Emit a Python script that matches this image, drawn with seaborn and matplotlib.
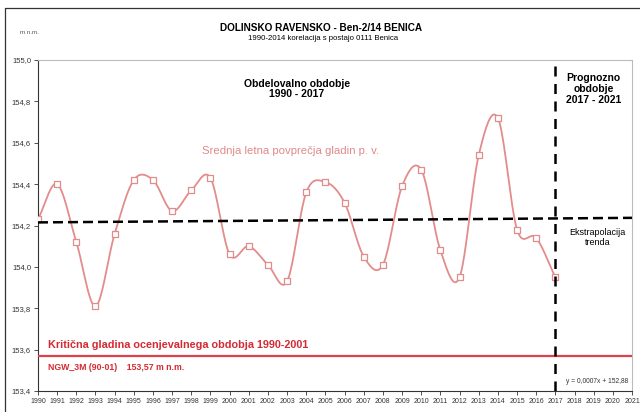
import numpy as np
import pandas as pd
import matplotlib
matplotlib.use("Agg")
import matplotlib.pyplot as plt
import seaborn as sns

years = list(range(1990, 2018))
levels = [154.23, 154.40, 154.12, 153.81, 154.16, 154.42, 154.42, 154.27, 154.37, 154.43,
          154.06, 154.10, 154.01, 153.93, 154.36, 154.41, 154.31, 154.05, 154.01, 154.39,
          154.47, 154.08, 153.95, 154.54, 154.72, 154.18, 154.14, 153.95]
trend_years = [1990, 2021]
trend_vals = [154.215, 154.237]
critical_level = 153.57
yticks = [153.4, 153.6, 153.8, 154.0, 154.2, 154.4, 154.6, 154.8, 155.0]
xticks = list(range(1990, 2022))

sns.set_theme(style="white")
plt.rcParams['font.family'] = ['Liberation Sans', 'DejaVu Sans']
plt.rcParams['text.color'] = 'black'

df = pd.DataFrame({"year": years, "level": levels})

fig = plt.figure(figsize=(6.4, 4.12), dpi=100)
ax = fig.add_axes([38/640, 1-391/412, (632-38)/640, (391-60)/412])

def catmull(xs, ys, n=20):
    xs = np.asarray(xs, float); ys = np.asarray(ys, float)
    px = np.concatenate([[2*xs[0]-xs[1]], xs, [2*xs[-1]-xs[-2]]])
    py = np.concatenate([[2*ys[0]-ys[1]], ys, [2*ys[-1]-ys[-2]]])
    ox, oy = [], []
    t = np.linspace(0, 1, n, endpoint=False)
    for i in range(1, len(px)-2):
        p0, p1, p2, p3 = py[i-1], py[i], py[i+1], py[i+2]
        q0, q1, q2, q3 = px[i-1], px[i], px[i+1], px[i+2]
        f = lambda a0, a1, a2, a3: 0.5*((2*a1) + (-a0+a2)*t + (2*a0-5*a1+4*a2-a3)*t**2 + (-a0+3*a1-3*a2+a3)*t**3)
        ox.append(f(q0, q1, q2, q3)); oy.append(f(p0, p1, p2, p3))
    ox.append([xs[-1]]); oy.append([ys[-1]])
    return np.concatenate(ox), np.concatenate(oy)

pink = "#e38c8c"
sx, sy = catmull(years, levels)
sns.lineplot(x=sx, y=sy, ax=ax, color=pink, lw=1.3, sort=False, estimator=None)
sns.scatterplot(data=df, x="year", y="level", ax=ax, marker="s", s=22,
                facecolor="white", edgecolor=pink, linewidth=0.9, zorder=4)

sns.lineplot(x=trend_years, y=trend_vals, ax=ax, color="black", lw=1.8,
             linestyle=(0, (4, 2)), zorder=5)
ax.axhline(critical_level, color="#e0404a", lw=1.6, zorder=3)
ax.axvline(2017, color="black", lw=1.8, linestyle=(0, (4, 3)), zorder=5)

ax.set_xlim(1990, 2021)
ax.set_ylim(153.4, 155.0)
ax.set_xticks(xticks)
ax.set_xticklabels([str(x) for x in xticks], fontsize=5, color="#333333")
ax.set_yticks(yticks)
ax.set_yticklabels([f"{v:.1f}".replace(".", ",") for v in yticks], fontsize=5.5, color="#333333")
ax.tick_params(axis="both", which="both", length=3, width=0.6, color="#333333", direction="out", pad=2,
               bottom=True, left=True)
ax.set_xlabel(""); ax.set_ylabel("")
for side in ["left", "bottom"]:
    ax.spines[side].set_color("#333333"); ax.spines[side].set_linewidth(0.8)
for side in ["top", "right"]:
    ax.spines[side].set_color("#bbbbbb"); ax.spines[side].set_linewidth(0.8)

dark_red = "#d42a33"
ax.text(1990.5, 153.6, "Kritična gladina ocenjevalnega obdobja 1990-2001", color=dark_red,
        fontsize=7.8, fontweight="bold", va="bottom", ha="left")
ax.text(1990.5, 153.515, "NGW_3M (90-01)    153,57 m n.m.", color=dark_red,
        fontsize=6.3, fontweight="bold", va="center", ha="left")
ax.text(2003.2, 154.56, "Srednja letna povprečja gladin p. v.", color="#e08a8a",
        fontsize=8.2, ha="center", va="center")
ax.text(2003.5, 154.86, "Obdelovalno obdobje\n1990 - 2017", color="black",
        fontsize=7.5, fontweight="bold", ha="center", va="center", linespacing=1.05)
ax.text(2019.0, 154.86, "Prognozno\nobdobje\n2017 - 2021", color="black",
        fontsize=7.5, fontweight="bold", ha="center", va="center", linespacing=1.15)
ax.text(2019.2, 154.144, "Ekstrapolacija\ntrenda", color="black",
        fontsize=6.5, ha="center", va="center", linespacing=1.15)
ax.text(2019.2, 153.445, "y = 0,0007x + 152,88", color="#333333",
        fontsize=4.8, ha="center", va="center")

fig.text(321/640, 1-28/412, "DOLINSKO RAVENSKO - Ben-2/14 BENICA", fontsize=7.2,
         fontweight="bold", ha="center", va="center", color="black")
fig.text(323/640, 1-39/412, "1990-2014 korelacija s postajo 0111 Benica", fontsize=5.6,
         ha="center", va="center", color="black")
fig.text(20/640, 1-33/412, "m n.m.", fontsize=4.5, color="#555555", ha="left", va="center")

# outer frame lines
fig.add_artist(plt.Line2D([5/640, 5/640], [0, 1-8/412], color="#333333", lw=0.9, transform=fig.transFigure))
fig.add_artist(plt.Line2D([5/640, 1], [1-8/412, 1-8/412], color="#333333", lw=0.9, transform=fig.transFigure))

fig.savefig("out.png", dpi=100)
